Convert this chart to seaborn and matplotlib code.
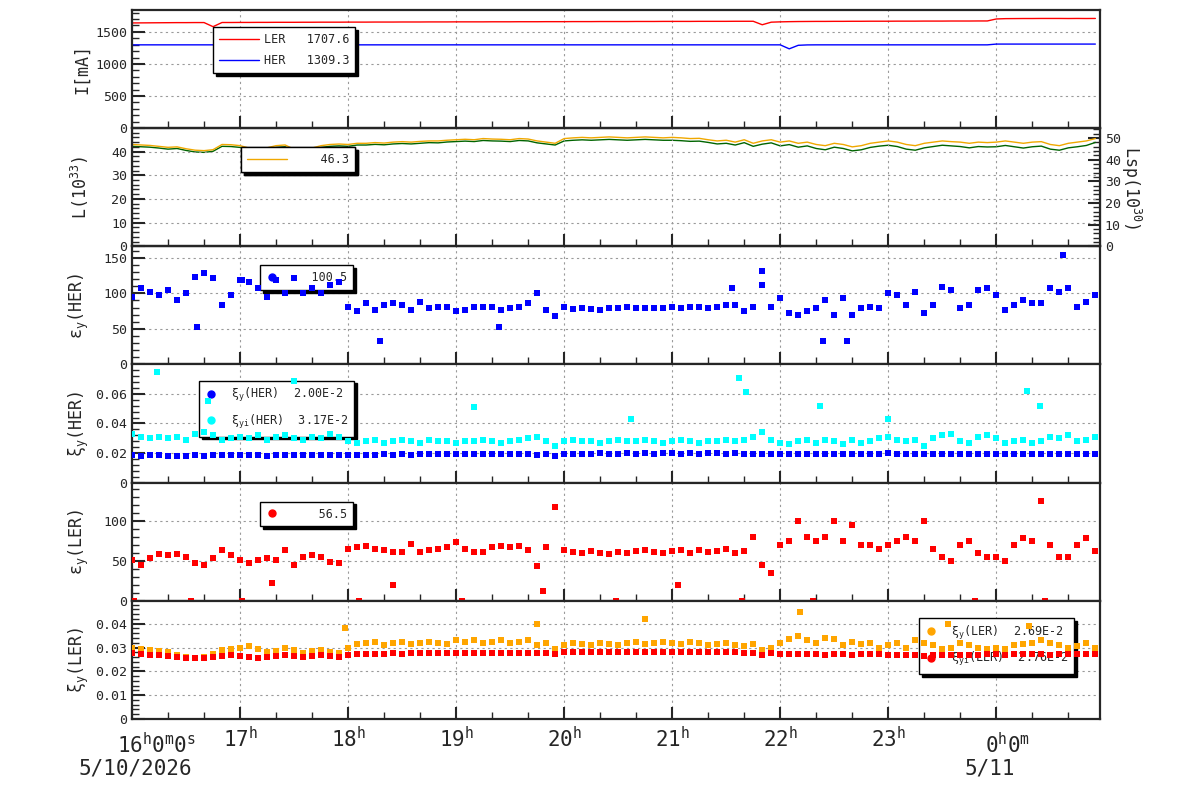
import matplotlib
matplotlib.use("Agg")
import matplotlib.pyplot as plt
from matplotlib.lines import Line2D
from matplotlib.ticker import MultipleLocator, FuncFormatter
import seaborn as sns
import numpy as np

# --- estilo ---
sns.set_style("ticks")
plt.rcParams['font.family'] = ['DejaVu Sans Mono', 'DejaVu Sans']
plt.rcParams['mathtext.fontset'] = 'custom'
plt.rcParams['mathtext.rm'] = 'DejaVu Sans Mono'
plt.rcParams['mathtext.default'] = 'regular'

# --- datos (muestreo cada 5 min, 16:00 -> 0:55) ---
minutes = np.arange(0, 540, 5)
hours = 16 + minutes / 60

ler_current = [1638, 1639, 1640, 1641, 1642, 1643, 1643, 1644, 1644, 1580, 1645, 1645,
               1646, 1646, 1647, 1647, 1648, 1648, 1648, 1649, 1649, 1650, 1650, 1650,
               1651, 1651, 1651, 1652, 1652, 1652, 1653, 1653, 1653, 1654, 1654, 1654,
               1655, 1655, 1655, 1655, 1656, 1656, 1656, 1657, 1657, 1657, 1658, 1658,
               1658, 1659, 1659, 1659, 1660, 1660, 1660, 1660, 1661, 1661, 1661, 1662,
               1662, 1662, 1662, 1663, 1663, 1663, 1663, 1664, 1664, 1664, 1610, 1650,
               1655, 1658, 1660, 1661, 1662, 1662, 1663, 1663, 1664, 1664, 1665, 1665,
               1665, 1666, 1666, 1666, 1667, 1667, 1667, 1668, 1668, 1668, 1669, 1669,
               1700, 1705, 1706, 1707, 1707, 1708, 1708, 1708, 1707, 1708, 1707, 1708]
her_current = [1297] * 72 + [1297, 1235, 1290, 1296, 1297, 1297, 1297, 1297, 1297, 1297, 1297, 1297] \
    + [1297] * 12 + [1309] * 12

lum = [43.0, 42.8, 42.6, 42.2, 41.8, 42.0, 41.2, 40.6, 40.4, 40.8, 43.0, 42.9,
       42.5, 41.5, 41.2, 41.6, 42.5, 42.8, 41.0, 40.5, 41.5, 42.5, 43.0, 43.2,
       43.0, 43.5, 43.5, 43.8, 43.6, 44.0, 44.2, 44.0, 44.3, 44.5, 44.5, 44.8,
       45.0, 45.2, 45.0, 45.5, 45.3, 45.2, 45.0, 45.5, 45.3, 44.5, 44.0, 43.5,
       45.5, 45.8, 46.0, 45.8, 46.0, 46.2, 46.0, 45.8, 46.0, 46.2, 46.0, 45.8,
       46.0, 45.8, 45.5, 45.6, 45.0, 44.5, 44.8, 44.0, 45.0, 43.5, 44.5, 45.0,
       44.0, 44.5, 43.5, 44.0, 43.0, 42.5, 43.5, 43.0, 42.0, 42.5, 43.5, 44.0,
       44.5, 44.0, 43.0, 42.5, 43.5, 44.0, 44.5, 44.2, 44.0, 43.5, 44.0, 43.8,
       44.0, 44.5, 44.0, 43.5, 44.0, 44.2, 43.0, 42.5, 43.5, 44.0, 44.5, 45.5]
lsp = [46.2, 46.0, 45.8, 45.4, 44.9, 45.2, 44.3, 43.6, 43.4, 43.9, 46.2, 46.1,
       45.7, 44.6, 44.3, 44.7, 45.7, 46.0, 44.1, 43.5, 44.6, 45.7, 46.2, 46.4,
       46.2, 46.8, 46.8, 47.1, 46.9, 47.3, 47.5, 47.3, 47.6, 47.9, 47.8, 48.2,
       48.4, 48.6, 48.4, 48.9, 48.7, 48.6, 48.4, 48.9, 48.7, 47.8, 47.3, 46.8,
       48.7, 49.0, 49.2, 49.0, 49.2, 49.4, 49.2, 49.0, 49.2, 49.4, 49.2, 49.0,
       49.0, 48.8, 48.5, 48.6, 48.0, 47.3, 47.6, 46.8, 47.9, 46.2, 47.2, 47.8,
       46.4, 47.0, 45.8, 46.4, 45.2, 44.6, 45.8, 45.2, 44.1, 44.6, 45.7, 46.3,
       46.7, 46.1, 44.9, 44.4, 45.5, 46.1, 46.7, 46.4, 46.1, 45.5, 46.1, 45.9,
       46.0, 46.6, 46.0, 45.4, 46.0, 46.3, 44.9, 44.4, 45.5, 46.0, 46.6, 48.0]

eps_her = [95, 107, 102, 98, 105, 91, 100, 123, 128, 121, 84, 98,
           118, 116, 107, 95, 118, 100, 121, 100, 107, 100, 112, 116,
           81, 75, 86, 77, 84, 86, 84, 77, 88, 79, 81, 81,
           75, 77, 81, 81, 81, 77, 79, 81, 86, 100, 77, 68,
           81, 78, 79, 78, 77, 79, 79, 81, 79, 79, 79, 79,
           81, 79, 81, 81, 79, 81, 84, 84, 75, 81, 112, 81,
           93, 72, 70, 75, 79, 91, 70, 93, 70, 79, 81, 79,
           100, 98, 84, 102, 72, 84, 109, 105, 79, 84, 105, 107,
           98, 77, 84, 91, 86, 86, 107, 102, 107, 81, 88, 98]
eps_her_out_t = [16.60, 17.02, 18.30, 19.40, 21.55, 21.83, 22.40, 22.62, 24.62]
eps_her_out_v = [53, 118, 33, 52, 108, 131, 33, 33, 154]

xi_her = [.0185, .0183, .0185, .0184, .0183, .0182, .0183, .0184, .0183, .0184, .0185, .0184,
          .0185, .0184, .0185, .0183, .0184, .0185, .0184, .0185, .0186, .0185, .0186, .0186,
          .0189, .0190, .0189, .0190, .0191, .0190, .0191, .0190, .0191, .0192, .0191, .0192,
          .0193, .0192, .0193, .0194, .0193, .0192, .0193, .0194, .0193, .0188, .0192, .0178,
          .0196, .0197, .0196, .0197, .0198, .0197, .0197, .0198, .0197, .0198, .0197, .0198,
          .0198, .0197, .0198, .0197, .0198, .0199, .0197, .0198, .0196, .0197, .0192, .0197,
          .0194, .0195, .0196, .0195, .0196, .0195, .0196, .0195, .0196, .0197, .0196, .0197,
          .0198, .0197, .0196, .0197, .0193, .0196, .0197, .0196, .0197, .0196, .0197, .0196,
          .0197, .0195, .0196, .0195, .0196, .0197, .0196, .0195, .0196, .0197, .0196, .0197]
xi_her_i = [.033, .031, .030, .031, .030, .031, .029, .033, .034, .032, .029, .030,
            .031, .030, .032, .029, .031, .032, .030, .029, .031, .030, .033, .031,
            .028, .027, .028, .029, .027, .028, .029, .028, .027, .029, .028, .028,
            .027, .028, .028, .029, .028, .027, .028, .029, .030, .031, .028, .025,
            .028, .029, .028, .028, .027, .028, .029, .028, .028, .029, .028, .027,
            .028, .029, .028, .027, .028, .028, .029, .028, .029, .031, .034, .029,
            .027, .026, .028, .029, .027, .029, .028, .026, .029, .027, .028, .030,
            .031, .029, .028, .029, .025, .030, .032, .033, .028, .027, .031, .032,
            .030, .027, .028, .029, .027, .028, .031, .030, .032, .028, .029, .031]
xi_her_i_out_t = [16.23, 16.70, 17.50, 19.17, 20.62, 21.62, 21.68, 22.37, 23.00, 24.28, 24.40]
xi_her_i_out_v = [.075, .055, .069, .051, .043, .071, .061, .052, .043, .062, .052]

eps_ler = [51, 45, 53, 59, 57, 59, 55, 47, 45, 53, 63, 57,
           51, 47, 51, 53, 51, 63, 45, 55, 57, 55, 49, 47,
           65, 67, 69, 65, 63, 61, 61, 71, 61, 63, 65, 67,
           74, 65, 61, 61, 67, 69, 67, 69, 63, 43, 67, 117,
           63, 61, 60, 62, 60, 58, 61, 60, 62, 63, 61, 60,
           62, 64, 60, 63, 61, 62, 65, 60, 62, 80, 45, 35,
           70, 75, 100, 80, 75, 80, 100, 75, 95, 70, 70, 65,
           70, 75, 80, 75, 100, 65, 55, 50, 70, 75, 60, 55,
           55, 50, 70, 78, 75, 125, 70, 55, 55, 70, 78, 62]
eps_ler_out_t = [16.02, 16.55, 17.02, 17.30, 18.10, 18.42, 19.05, 19.80, 20.48, 21.05,
                 21.65, 22.30, 23.80, 24.45]
eps_ler_out_v = [0, 0, 0, 22, 0, 20, 0, 12, 0, 20, 0, 0, 0, 0]

xi_ler = [.0275, .0272, .0270, .0268, .0266, .0262, .0258, .0255, .0258, .0262, .0266, .0268,
          .0266, .0262, .0258, .0262, .0265, .0268, .0266, .0262, .0265, .0268, .0266, .0262,
          .0270, .0272, .0273, .0272, .0274, .0275, .0274, .0275, .0276, .0275, .0276, .0275,
          .0276, .0277, .0276, .0278, .0277, .0276, .0278, .0277, .0278, .0276, .0277, .0272,
          .0280, .0281, .0280, .0282, .0281, .0280, .0281, .0282, .0281, .0280, .0281, .0282,
          .0281, .0282, .0280, .0281, .0282, .0281, .0280, .0281, .0279, .0278, .0270, .0275,
          .0274, .0272, .0273, .0271, .0272, .0270, .0271, .0272, .0270, .0271, .0272, .0271,
          .0270, .0268, .0269, .0268, .0266, .0268, .0270, .0269, .0268, .0269, .0270, .0271,
          .0272, .0270, .0271, .0272, .0271, .0272, .0270, .0271, .0272, .0271, .0272, .0271]
xi_ler_i = [.0300, .0295, .0290, .0285, .0280, .0270, .0262, .0258, .0262, .0272, .0290, .0295,
            .0300, .0305, .0295, .0280, .0285, .0300, .0290, .0275, .0285, .0290, .0280, .0275,
            .0300, .0315, .0320, .0325, .0310, .0320, .0325, .0315, .0320, .0325, .0320, .0315,
            .0330, .0325, .0330, .0320, .0325, .0330, .0320, .0325, .0330, .0310, .0320, .0295,
            .0310, .0320, .0315, .0310, .0320, .0315, .0310, .0320, .0325, .0315, .0320, .0325,
            .0320, .0315, .0325, .0320, .0310, .0315, .0320, .0310, .0305, .0315, .0290, .0300,
            .0320, .0335, .0350, .0330, .0320, .0340, .0335, .0310, .0325, .0315, .0320, .0300,
            .0310, .0320, .0300, .0330, .0320, .0310, .0295, .0300, .0320, .0310, .0300, .0295,
            .0300, .0295, .0310, .0315, .0320, .0330, .0320, .0310, .0300, .0305, .0320, .0300]
xi_ler_i_out_t = [17.97, 19.75, 20.75, 22.18, 23.55, 24.30]
xi_ler_i_out_v = [.038, .040, .042, .045, .040, .039]

# --- figura ---
fig, axes = plt.subplots(6, 1, figsize=(12, 7.98), dpi=100, sharex=True)
fig.subplots_adjust(left=0.11, right=0.9167, top=0.9875, bottom=0.099, hspace=0)
ax_i, ax_l, ax_eh, ax_xh, ax_el, ax_xl = axes

zero_fmt = FuncFormatter(lambda v, p: '0' if abs(v) < 1e-12 else f'{v:g}')


def style_axis(ax, ymax, major, minor):
    ax.set_xlim(16, 24.96)
    ax.set_ylim(0, ymax)
    ax.xaxis.set_major_locator(MultipleLocator(1))
    ax.xaxis.set_minor_locator(MultipleLocator(1 / 3))
    ax.yaxis.set_major_locator(MultipleLocator(major))
    ax.yaxis.set_minor_locator(MultipleLocator(minor))
    ax.yaxis.set_major_formatter(zero_fmt)
    ax.tick_params(which='major', direction='in', length=9, width=1.5, labelsize=9.5)
    ax.tick_params(which='minor', direction='in', length=5, width=1.0)
    ax.grid(True, which='major', ls=(0, (2, 3)), color='#9a9a9a', lw=0.8)
    ax.set_axisbelow(True)
    for s in ax.spines.values():
        s.set_linewidth(1.6)
    ax.yaxis.set_label_coords(-0.042, 0.5)


def box_legend(ax, handles, labels, x0, ytop, hl=1.0, tp=0.5, below=True):
    leg = ax.legend(handles, labels, loc='upper left', bbox_to_anchor=(x0, ytop),
                    borderaxespad=0, fancybox=False, framealpha=1,
                    edgecolor='black', fontsize=8.5, handlelength=hl, handletextpad=tp,
                    borderpad=0.5, labelspacing=0.7,
                    shadow={'color': 'black', 'alpha': 1, 'ox': 2, 'oy': -2})
    leg.get_frame().set_linewidth(1.0)
    if below:
        leg.set_zorder(1.5)
    return leg


def dot(c):
    return Line2D([], [], ls='none', marker='o', ms=5, color=c)


sq = dict(marker='s', s=14, linewidth=0, legend=False, zorder=3)

# I [mA]
sns.lineplot(x=hours, y=ler_current, ax=ax_i, color='red', lw=1, legend=False)
sns.lineplot(x=hours, y=her_current, ax=ax_i, color='blue', lw=1, legend=False)
style_axis(ax_i, 1840, 500, 100)
ax_i.set_ylabel('I[mA]', fontsize=12)
box_legend(ax_i, [Line2D([], [], color='red', lw=1), Line2D([], [], color='blue', lw=1)],
           ['LER   1707.6', 'HER   1309.3'], 0.084, 0.855, hl=3.4, tp=0.4, below=False)

# L (10^33) y Lsp
ax_r = ax_l.twinx()
sns.lineplot(x=hours, y=lsp, ax=ax_r, color='#006400', lw=1, legend=False)
sns.lineplot(x=hours, y=lum, ax=ax_l, color='#f0a800', lw=1, legend=False)
ax_l.set_zorder(ax_r.get_zorder() + 1)
ax_l.patch.set_visible(False)
style_axis(ax_l, 49.9, 10, 2)
ax_l.set_ylabel('L(10$^{33}$)', fontsize=12)
ax_r.set_ylim(0, 54.6)
ax_r.yaxis.set_major_locator(MultipleLocator(10))
ax_r.yaxis.set_minor_locator(MultipleLocator(2))
ax_r.tick_params(which='major', direction='in', length=9, width=1.5, labelsize=9.5)
ax_r.tick_params(which='minor', direction='in', length=5, width=1.0)
ax_r.set_ylabel('Lsp(10$^{30}$)', fontsize=12, rotation=-90, labelpad=16)
l1 = box_legend(ax_l, [Line2D([], [], color='#006400', lw=1)], ['    46.4'],
                0.113, 0.839, hl=3.4, tp=0.4, below=False)
ax_l.add_artist(l1)
box_legend(ax_l, [Line2D([], [], color='#f0a800', lw=1)], ['    46.3'],
           0.113, 0.839, hl=3.4, tp=0.4, below=False)

# eps_y(HER)
sns.scatterplot(x=hours, y=eps_her, ax=ax_eh, color='blue', **sq)
sns.scatterplot(x=eps_her_out_t, y=eps_her_out_v, ax=ax_eh, color='blue', **sq)
style_axis(ax_eh, 166, 50, 10)
ax_eh.set_ylabel('ε$_y$(HER)', fontsize=12)
box_legend(ax_eh, [dot('blue')], ['    100.5'], 0.132, 0.84)

# xi_y(HER)
sns.scatterplot(x=hours, y=xi_her_i, ax=ax_xh, color='cyan', **sq)
sns.scatterplot(x=xi_her_i_out_t, y=xi_her_i_out_v, ax=ax_xh, color='cyan', **sq)
sns.scatterplot(x=hours, y=xi_her, ax=ax_xh, color='blue', **sq)
style_axis(ax_xh, 0.0799, 0.02, 0.004)
ax_xh.set_ylabel('ξ$_y$(HER)', fontsize=12)
box_legend(ax_xh, [dot('blue'), dot('cyan')],
           ['ξ$_y$(HER)  2.00E-2', 'ξ$_{yi}$(HER)  3.17E-2'], 0.069, 0.864, tp=1.2)

# eps_y(LER)
sns.scatterplot(x=hours, y=eps_ler, ax=ax_el, color='red', **sq)
sns.scatterplot(x=eps_ler_out_t, y=eps_ler_out_v, ax=ax_el, color='red', **sq)
style_axis(ax_el, 147.5, 50, 10)
ax_el.set_ylabel('ε$_y$(LER)', fontsize=12)
box_legend(ax_el, [dot('red')], ['     56.5'], 0.132, 0.839)

# xi_y(LER)
sns.scatterplot(x=hours, y=xi_ler_i, ax=ax_xl, color='orange', **sq)
sns.scatterplot(x=xi_ler_i_out_t, y=xi_ler_i_out_v, ax=ax_xl, color='orange', **sq)
sns.scatterplot(x=hours, y=xi_ler, ax=ax_xl, color='red', **sq)
style_axis(ax_xl, 0.0496, 0.01, 0.002)
ax_xl.set_ylabel('ξ$_y$(LER)', fontsize=12)
box_legend(ax_xl, [dot('orange'), dot('red')],
           ['ξ$_y$(LER)  2.69E-2', 'ξ$_{yi}$(LER)  2.76E-2'], 0.813, 0.857, tp=1.2)

# eje de tiempo
ax_xl.set_xticks(range(16, 25))
ax_xl.set_xticklabels([''] + [f'{h}$^h$' for h in range(17, 24)] + [''], fontsize=15)
ax_xl.tick_params(axis='x', which='major', pad=5)
fig.text(157 / 1200, 1 - 745 / 798, '16$^h$0$^m$0$^s$', ha='center', va='center', fontsize=15)
fig.text(135 / 1200, 1 - 769 / 798, '5/10/2026', ha='center', va='center', fontsize=15)
fig.text(1008 / 1200, 1 - 745 / 798, '0$^h$0$^m$', ha='center', va='center', fontsize=15)
fig.text(990 / 1200, 1 - 769 / 798, '5/11', ha='center', va='center', fontsize=15)
for ax in axes:
    ax.set_xlabel('')

plt.savefig('out.png', dpi=100)
